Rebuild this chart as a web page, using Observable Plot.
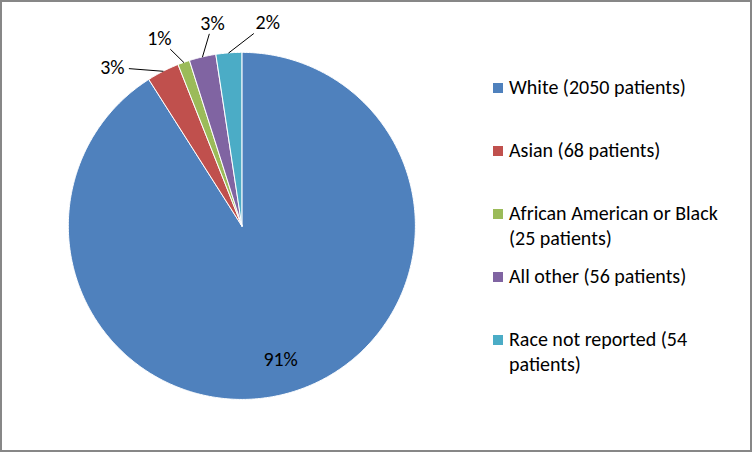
<!DOCTYPE html>
<html>
<head>
<meta charset="utf-8">
<script src="https://cdn.jsdelivr.net/npm/d3@7"></script>
<script src="https://cdn.jsdelivr.net/npm/@observablehq/plot@0.6"></script>
<style>
  html, body { margin: 0; padding: 0; background: #fff; }
  #frame { position: relative; width: 752px; height: 452px; box-sizing: border-box; border: 2px solid #878787; overflow: hidden; font-family: Carlito, Calibri, Lato, sans-serif; }
  #chart { position: absolute; left: -2px; top: -2px; }
  #legend { position: absolute; left: 491px; top: 73px; }
  .item { position: relative; height: 63px; font-size: 20px; line-height: 25px; color: #000; width: 250px; }
  .sw { position: absolute; left: 0; top: 8px; width: 10px; height: 10px; }
  .lt { position: absolute; left: 16px; top: 0; white-space: nowrap; }
</style>
</head>
<body>
<div id="frame"><div id="chart"></div><div id="legend"></div></div>
<script>
const categories = ["White", "Asian", "African American or Black", "All other", "Race not reported"];
const patients = [2050, 68, 25, 56, 54];
const percentLabels = ["91%", "3%", "1%", "3%", "2%"];
const legendLines = [
  ["White (2050 patients)"],
  ["Asian (68 patients)"],
  ["African American or Black", "(25 patients)"],
  ["All other (56 patients)"],
  ["Race not reported (54", "patients)"]
];
const colors = ["#4F81BD", "#C0504D", "#9BBB59", "#8064A2", "#4BACC6"];

const total = d3.sum(patients);
const deg = Math.PI / 180;
// slices clockwise from 12 o'clock
let acc = 0;
const slices = categories.map((name, i) => {
  const a0 = acc / total * 360;
  acc += patients[i];
  const a1 = acc / total * 360;
  return {name, a0, a1, mid: (a0 + a1) / 2, frac: patients[i] / total, label: percentLabels[i]};
});
const pt = (a, r) => [r * Math.sin(a * deg), r * Math.cos(a * deg)];

// polygons
const poly = [];
for (const s of slices) {
  poly.push({name: s.name, x: 0, y: 0});
  const n = Math.max(2, Math.ceil((s.a1 - s.a0) / 0.5));
  for (let k = 0; k <= n; k++) {
    const a = s.a0 + (s.a1 - s.a0) * k / n;
    const [x, y] = pt(a, 1);
    poly.push({name: s.name, x, y});
  }
  poly.push({name: s.name, x: 0, y: 0});
}

// labels
const inside = slices.filter(s => s.frac >= 0.1).map(s => {
  const [x, y] = pt(s.mid, 0.8);
  return {x, y, label: s.label};
});
const outs = slices.filter(s => s.frac < 0.1).map(s => ({...s, la: s.mid}));
const sep = 15.5;
for (let it = 0; it < 200; it++) {
  for (let i = 0; i < outs.length - 1; i++) {
    const d = outs[i + 1].la - outs[i].la;
    if (d < sep) { const p = (sep - d) / 2; outs[i].la -= p; outs[i + 1].la += p; }
  }
}
const R = 174;
const outside = [], leaders = [];
outs.forEach((s, i) => {
  const [lx, ly] = pt(s.la, 1.18);
  outside.push({x: lx, y: ly, label: s.label});
  const [ex, ey] = pt(s.mid, 1.0);
  const dx = ex - lx, dy = ey - ly;
  const hw = 17 / R, hh = 11 / R;
  const t = Math.min(hw / Math.abs(dx || 1e-9), hh / Math.abs(dy || 1e-9));
  leaders.push({id: i, x: lx + t * dx, y: ly + t * dy});
  leaders.push({id: i, x: ex, y: ey});
});

const plot = Plot.plot({
  width: 752, height: 452,
  marginLeft: 68, marginRight: 752 - 416,
  marginTop: 52, marginBottom: 452 - 400,
  x: {domain: [-1, 1], axis: null},
  y: {domain: [-1, 1], axis: null},
  color: {domain: categories, range: colors},
  style: {fontFamily: "Carlito, Calibri, Lato, sans-serif", fontSize: "20px", background: "transparent", overflow: "visible"},
  marks: [
    Plot.line(poly, {x: "x", y: "y", z: "name", fill: "name", stroke: "white", strokeWidth: 1, strokeLinejoin: "round", curve: "linear"}),
    Plot.line(leaders, {x: "x", y: "y", z: "id", stroke: "#000", strokeWidth: 1}),
    Plot.text(inside, {x: "x", y: "y", text: "label", fill: "#000", fontSize: 20}),
    Plot.text(outside, {x: "x", y: "y", text: "label", fill: "#000", fontSize: 20})
  ]
});
document.getElementById("chart").appendChild(plot);

const legend = d3.select("#legend");
categories.forEach((c, i) => {
  const it = legend.append("div").attr("class", "item");
  it.append("div").attr("class", "sw").style("background", colors[i]);
  it.append("div").attr("class", "lt").html(legendLines[i].join("<br>"));
});
</script>
</body>
</html>
